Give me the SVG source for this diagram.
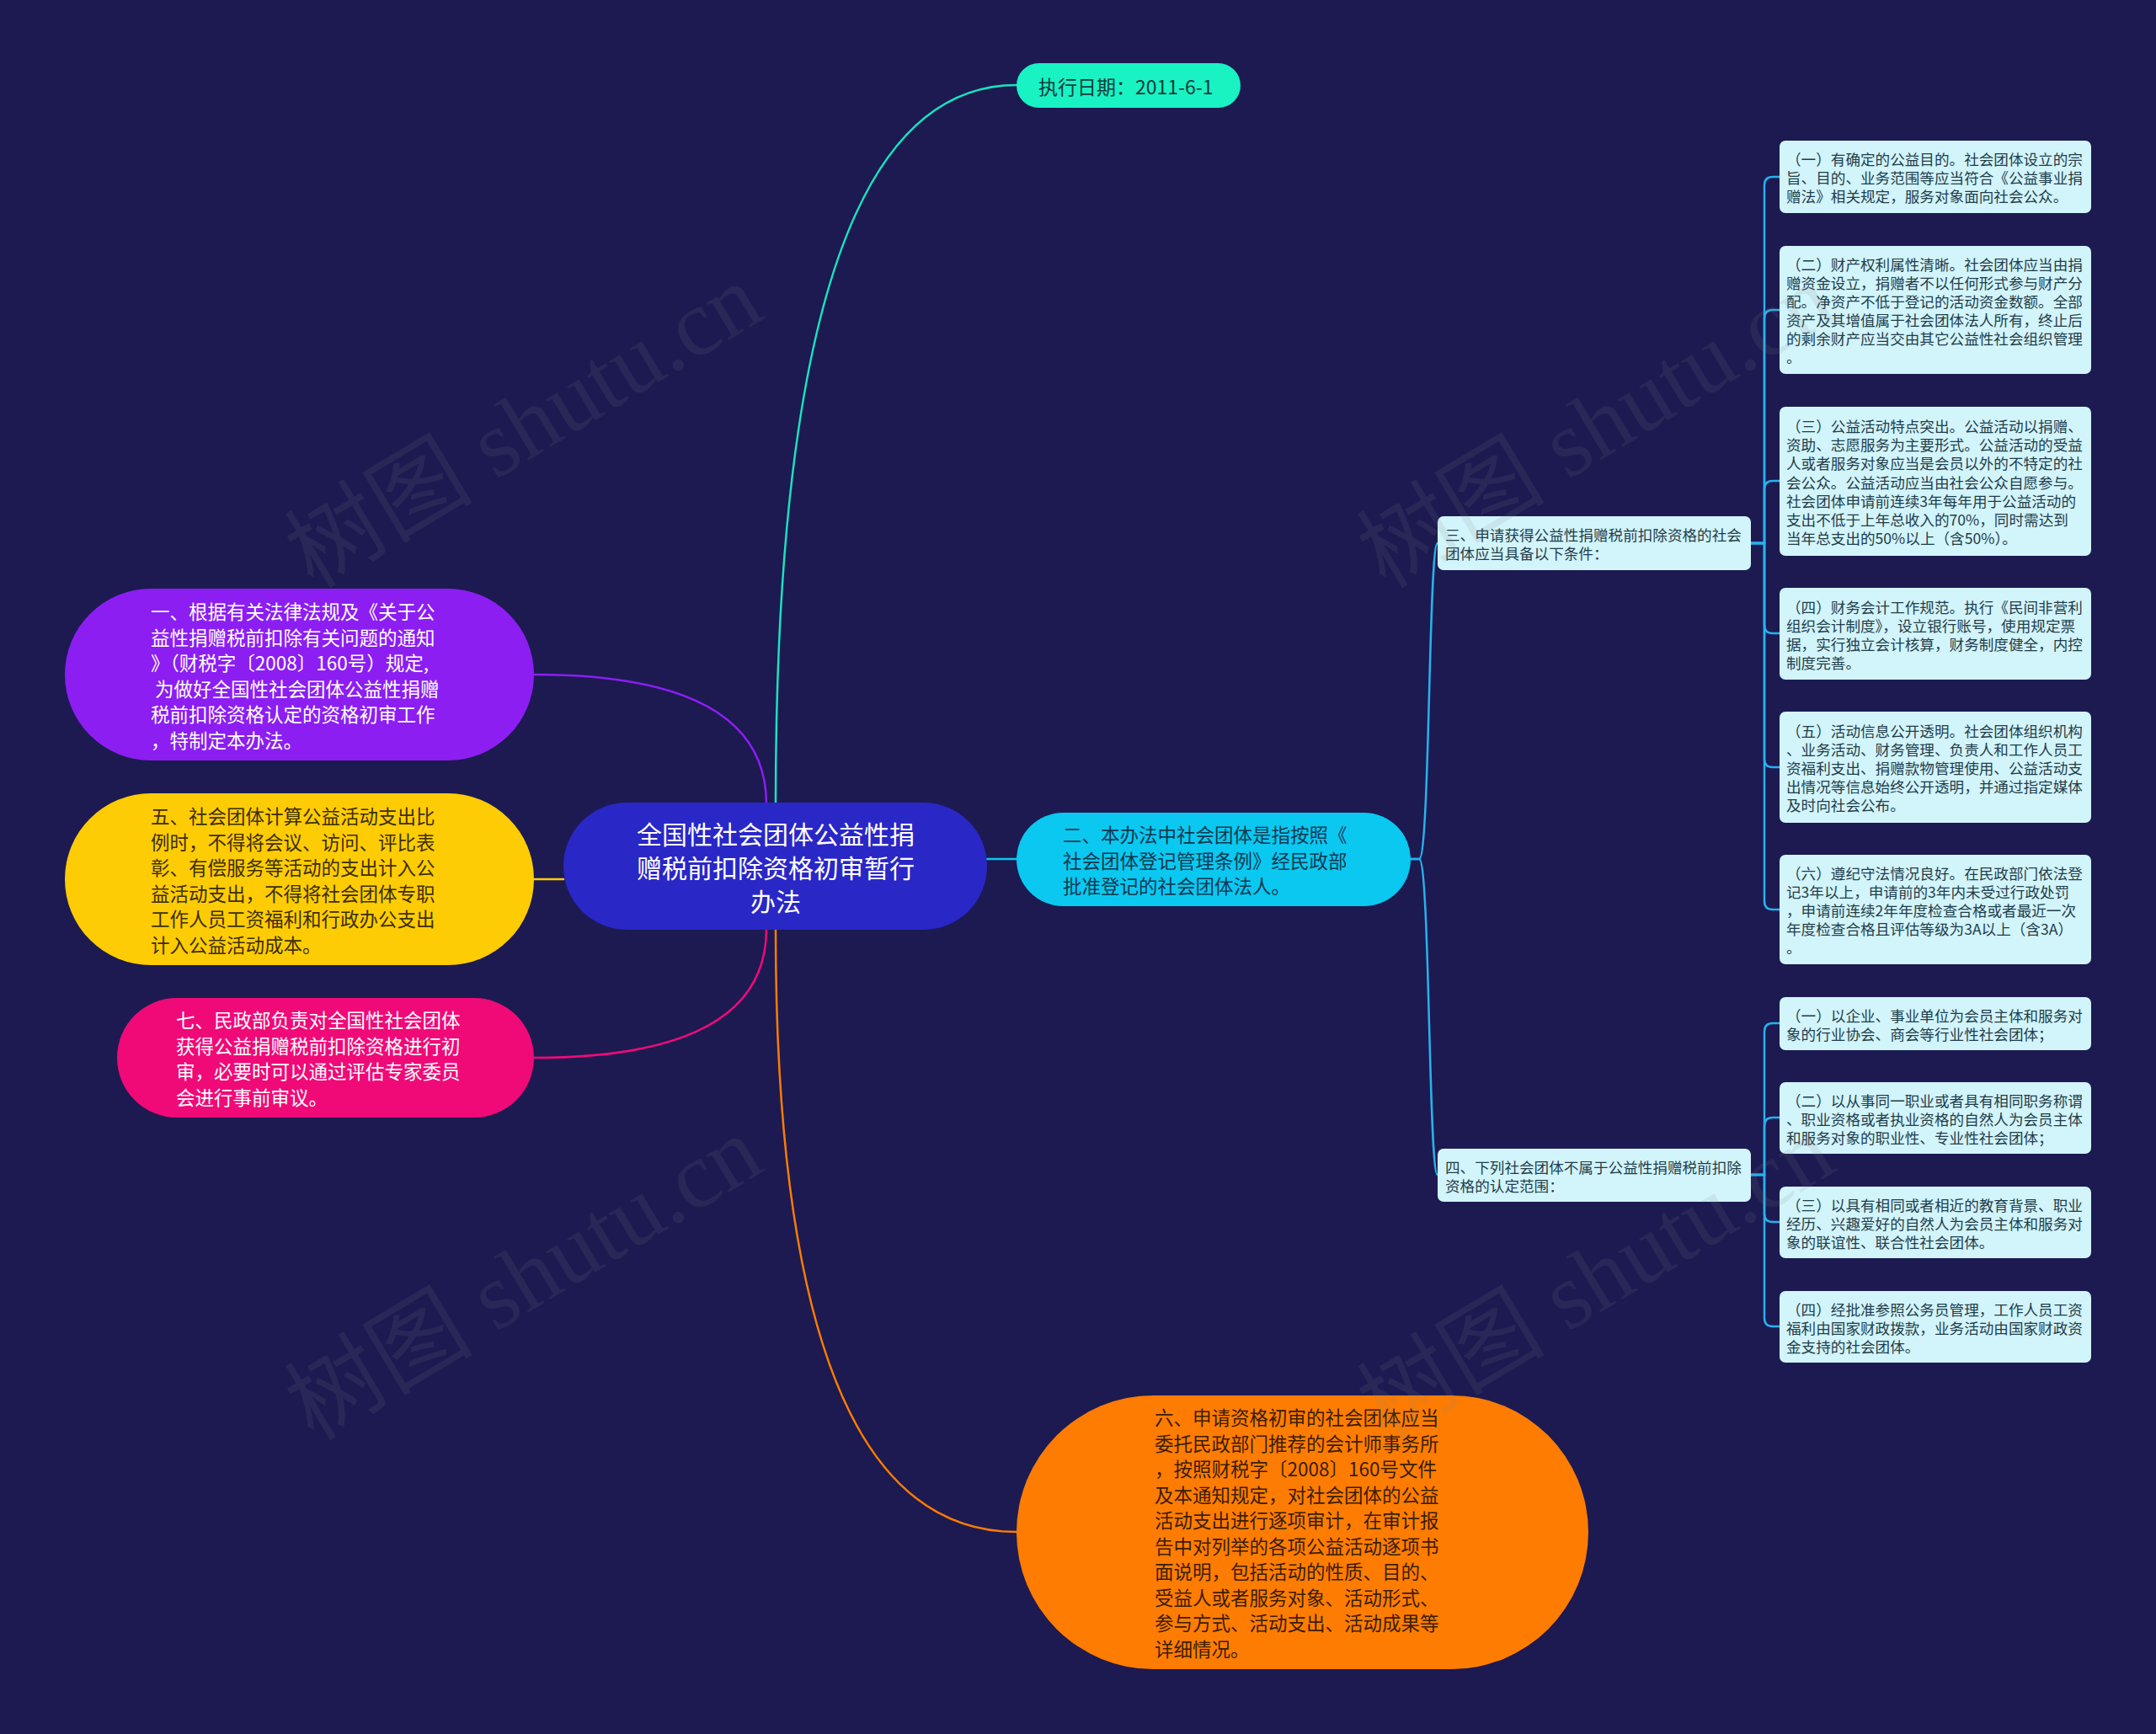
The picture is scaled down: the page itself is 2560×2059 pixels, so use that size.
<svg xmlns="http://www.w3.org/2000/svg" width="2560" height="2059" viewBox="0 0 2560 2059">
<style>
.t{font-family:"Noto Sans CJK SC","Noto Sans",sans-serif;dominant-baseline:central}
.m{font-size:22.5px}
.s{font-size:17.6px;fill:#1f3d4a}
.c{fill:none;stroke-width:2.5;stroke-linecap:round}
.box{fill:#d2f4fb}
.wm{font-family:"Liberation Serif","Noto Sans CJK SC",serif;font-size:112px;fill:#808080;fill-opacity:0.13}
</style>
<rect width="2560" height="2059" fill="#1c1a51"/>
<g id="connectors">
<path class="c" stroke="#19e3c0" d="M 921 955 Q 921 101 1207 101"/>
<path class="c" stroke="#8c1ef2" d="M 910 955 Q 910 801 634 801"/>
<path class="c" stroke="#f00a78" d="M 910 1103 Q 910 1256 634 1256"/>
<path class="c" stroke="#fe7c02" d="M 921 1103 Q 921 1819 1207 1819"/>
<path class="c" stroke="#fecc05" d="M 669 1044 L 634 1044"/>
<path class="c" stroke="#0ac8f0" d="M 1172 1020 L 1207 1020"/>
<g stroke="#27b2ee">
<path class="c" d="M 1675 1020 L 1685 1020 C 1698 1020 1696 645 1707 645"/>
<path class="c" d="M 1675 1020 L 1685 1020 C 1698 1020 1696 1395 1707 1395"/>
<path class="c" d="M 2079 645 H 2095 V 220 Q 2095 210 2105 210 H 2113"/>
<path class="c" d="M 2079 645 H 2095 V 378 Q 2095 368 2105 368 H 2113"/>
<path class="c" d="M 2079 645 H 2095 V 581 Q 2095 571 2105 571 H 2113"/>
<path class="c" d="M 2079 645 H 2095 V 742 Q 2095 752 2105 752 H 2113"/>
<path class="c" d="M 2079 645 H 2095 V 901 Q 2095 911 2105 911 H 2113"/>
<path class="c" d="M 2079 645 H 2095 V 1070 Q 2095 1080 2105 1080 H 2113"/>
<path class="c" d="M 2079 1395 H 2095 V 1225 Q 2095 1215 2105 1215 H 2113"/>
<path class="c" d="M 2079 1395 H 2095 V 1337 Q 2095 1327 2105 1327 H 2113"/>
<path class="c" d="M 2079 1395 H 2095 V 1441 Q 2095 1451 2105 1451 H 2113"/>
<path class="c" d="M 2079 1395 H 2095 V 1565 Q 2095 1575 2105 1575 H 2113"/>
</g>
</g>
<g id="root">
<rect x="669" y="953" width="503" height="151" rx="75.5" fill="#2a27c7"/>
<text class="t" font-size="30" fill="#ffffff" text-anchor="middle"><tspan x="921" y="989">全国性社会团体公益性捐</tspan><tspan x="921" y="1029">赠税前扣除资格初审暂行</tspan><tspan x="921" y="1069">办法</tspan></text>
</g>
<g id="date">
<rect x="1207" y="75" width="266" height="53" rx="26.5" fill="#19f2c3"/>
<text class="t" font-size="23" fill="#12393a" x="1233" y="102">执行日期：2011-6-1</text>
</g>
<g id="n1">
<rect x="77" y="699" width="557" height="204" rx="102" fill="#8c1ef2"/>
<text class="t m" fill="#ffffff"><tspan x="179" y="725">一、根据有关法律法规及《关于公</tspan><tspan x="179" y="755.5">益性捐赠税前扣除有关问题的通知</tspan><tspan x="179" y="786">》（财税字〔2008〕160号）规定,</tspan><tspan x="179" y="816.5"> 为做好全国性社会团体公益性捐赠</tspan><tspan x="179" y="847">税前扣除资格认定的资格初审工作</tspan><tspan x="179" y="877.5">，特制定本办法。</tspan></text>
</g>
<g id="n5">
<rect x="77" y="942" width="557" height="204" rx="102" fill="#fecc05"/>
<text class="t m" fill="#3d2e00"><tspan x="179" y="968">五、社会团体计算公益活动支出比</tspan><tspan x="179" y="998.5">例时，不得将会议、访问、评比表</tspan><tspan x="179" y="1029">彰、有偿服务等活动的支出计入公</tspan><tspan x="179" y="1059.5">益活动支出，不得将社会团体专职</tspan><tspan x="179" y="1090">工作人员工资福利和行政办公支出</tspan><tspan x="179" y="1120.5">计入公益活动成本。</tspan></text>
</g>
<g id="n7">
<rect x="139" y="1185" width="495" height="142" rx="71" fill="#f00a78"/>
<text class="t m" fill="#ffffff"><tspan x="209" y="1210">七、民政部负责对全国性社会团体</tspan><tspan x="209" y="1240.5">获得公益捐赠税前扣除资格进行初</tspan><tspan x="209" y="1271">审，必要时可以通过评估专家委员</tspan><tspan x="209" y="1301.5">会进行事前审议。</tspan></text>
</g>
<g id="n2">
<rect x="1207" y="965" width="468" height="111" rx="55.5" fill="#0ac8f0"/>
<text class="t m" fill="#0f3850"><tspan x="1262" y="990">二、本办法中社会团体是指按照《</tspan><tspan x="1262" y="1020.5">社会团体登记管理条例》经民政部</tspan><tspan x="1262" y="1051">批准登记的社会团体法人。</tspan></text>
</g>
<g id="n6">
<rect x="1207" y="1657" width="679" height="325" rx="162.5" fill="#fe7c02"/>
<text class="t m" fill="#3b1d00"><tspan x="1371" y="1682">六、申请资格初审的社会团体应当</tspan><tspan x="1371" y="1712.5">委托民政部门推荐的会计师事务所</tspan><tspan x="1371" y="1743">，按照财税字〔2008〕160号文件</tspan><tspan x="1371" y="1773.5">及本通知规定，对社会团体的公益</tspan><tspan x="1371" y="1804">活动支出进行逐项审计，在审计报</tspan><tspan x="1371" y="1834.5">告中对列举的各项公益活动逐项书</tspan><tspan x="1371" y="1865">面说明，包括活动的性质、目的、</tspan><tspan x="1371" y="1895.5">受益人或者服务对象、活动形式、</tspan><tspan x="1371" y="1926">参与方式、活动支出、活动成果等</tspan><tspan x="1371" y="1956.5">详细情况。</tspan></text>
</g>
<g id="n3">
<rect class="box" x="1707" y="613" width="372" height="64" rx="7"/>
<text class="t s"><tspan x="1716" y="634">三、申请获得公益性捐赠税前扣除资格的社会</tspan><tspan x="1716" y="656">团体应当具备以下条件：</tspan></text>
</g>
<g id="n3-1">
<rect class="box" x="2113" y="167" width="370" height="86" rx="7"/>
<text class="t s"><tspan x="2121" y="188">（一）有确定的公益目的。社会团体设立的宗</tspan><tspan x="2121" y="210">旨、目的、业务范围等应当符合《公益事业捐</tspan><tspan x="2121" y="232">赠法》相关规定，服务对象面向社会公众。</tspan></text>
</g>
<g id="n3-2">
<rect class="box" x="2113" y="292" width="370" height="152" rx="7"/>
<text class="t s"><tspan x="2121" y="313">（二）财产权利属性清晰。社会团体应当由捐</tspan><tspan x="2121" y="335">赠资金设立，捐赠者不以任何形式参与财产分</tspan><tspan x="2121" y="357">配。净资产不低于登记的活动资金数额。全部</tspan><tspan x="2121" y="379">资产及其增值属于社会团体法人所有，终止后</tspan><tspan x="2121" y="401">的剩余财产应当交由其它公益性社会组织管理</tspan><tspan x="2121" y="423">。</tspan></text>
</g>
<g id="n3-3">
<rect class="box" x="2113" y="483" width="370" height="177" rx="7"/>
<text class="t s"><tspan x="2121" y="505">（三）公益活动特点突出。公益活动以捐赠、</tspan><tspan x="2121" y="527">资助、志愿服务为主要形式。公益活动的受益</tspan><tspan x="2121" y="549">人或者服务对象应当是会员以外的不特定的社</tspan><tspan x="2121" y="571.5">会公众。公益活动应当由社会公众自愿参与。</tspan><tspan x="2121" y="594">社会团体申请前连续3年每年用于公益活动的</tspan><tspan x="2121" y="616">支出不低于上年总收入的70%，同时需达到</tspan><tspan x="2121" y="638">当年总支出的50%以上（含50%）。</tspan></text>
</g>
<g id="n3-4">
<rect class="box" x="2113" y="698" width="370" height="109" rx="7"/>
<text class="t s"><tspan x="2121" y="719.5">（四）财务会计工作规范。执行《民间非营利</tspan><tspan x="2121" y="741.5">组织会计制度》，设立银行账号，使用规定票</tspan><tspan x="2121" y="763.5">据，实行独立会计核算，财务制度健全，内控</tspan><tspan x="2121" y="785.5">制度完善。</tspan></text>
</g>
<g id="n3-5">
<rect class="box" x="2113" y="845" width="370" height="132" rx="7"/>
<text class="t s"><tspan x="2121" y="867">（五）活动信息公开透明。社会团体组织机构</tspan><tspan x="2121" y="889">、业务活动、财务管理、负责人和工作人员工</tspan><tspan x="2121" y="911">资福利支出、捐赠款物管理使用、公益活动支</tspan><tspan x="2121" y="933">出情况等信息始终公开透明，并通过指定媒体</tspan><tspan x="2121" y="955">及时向社会公布。</tspan></text>
</g>
<g id="n3-6">
<rect class="box" x="2113" y="1015" width="370" height="130" rx="7"/>
<text class="t s"><tspan x="2121" y="1036">（六）遵纪守法情况良好。在民政部门依法登</tspan><tspan x="2121" y="1058">记3年以上，申请前的3年内未受过行政处罚</tspan><tspan x="2121" y="1080">，申请前连续2年年度检查合格或者最近一次</tspan><tspan x="2121" y="1102">年度检查合格且评估等级为3A以上（含3A）</tspan><tspan x="2121" y="1124">。</tspan></text>
</g>
<g id="n4">
<rect class="box" x="1707" y="1364" width="372" height="63" rx="7"/>
<text class="t s"><tspan x="1716" y="1385">四、下列社会团体不属于公益性捐赠税前扣除</tspan><tspan x="1716" y="1407">资格的认定范围：</tspan></text>
</g>
<g id="n4-1">
<rect class="box" x="2113" y="1184" width="370" height="63" rx="7"/>
<text class="t s"><tspan x="2121" y="1205">（一）以企业、事业单位为会员主体和服务对</tspan><tspan x="2121" y="1227">象的行业协会、商会等行业性社会团体；</tspan></text>
</g>
<g id="n4-2">
<rect class="box" x="2113" y="1285" width="370" height="85" rx="7"/>
<text class="t s"><tspan x="2121" y="1305.5">（二）以从事同一职业或者具有相同职务称谓</tspan><tspan x="2121" y="1327.5">、职业资格或者执业资格的自然人为会员主体</tspan><tspan x="2121" y="1349.5">和服务对象的职业性、专业性社会团体；</tspan></text>
</g>
<g id="n4-3">
<rect class="box" x="2113" y="1409" width="370" height="85" rx="7"/>
<text class="t s"><tspan x="2121" y="1429.5">（三）以具有相同或者相近的教育背景、职业</tspan><tspan x="2121" y="1451.5">经历、兴趣爱好的自然人为会员主体和服务对</tspan><tspan x="2121" y="1473.5">象的联谊性、联合性社会团体。</tspan></text>
</g>
<g id="n4-4">
<rect class="box" x="2113" y="1533" width="370" height="85" rx="7"/>
<text class="t s"><tspan x="2121" y="1553.5">（四）经批准参照公务员管理，工作人员工资</tspan><tspan x="2121" y="1575.5">福利由国家财政拨款，业务活动由国家财政资</tspan><tspan x="2121" y="1597.5">金支持的社会团体。</tspan></text>
</g>
<g id="watermarks">
<text class="wm" transform="translate(372 700) rotate(-31)">树图 shutu.cn</text>
<text class="wm" transform="translate(1645 700) rotate(-31)">树图 shutu.cn</text>
<text class="wm" transform="translate(372 1712) rotate(-31)">树图 shutu.cn</text>
<text class="wm" transform="translate(1645 1712) rotate(-31)">树图 shutu.cn</text>
</g>
</svg>
